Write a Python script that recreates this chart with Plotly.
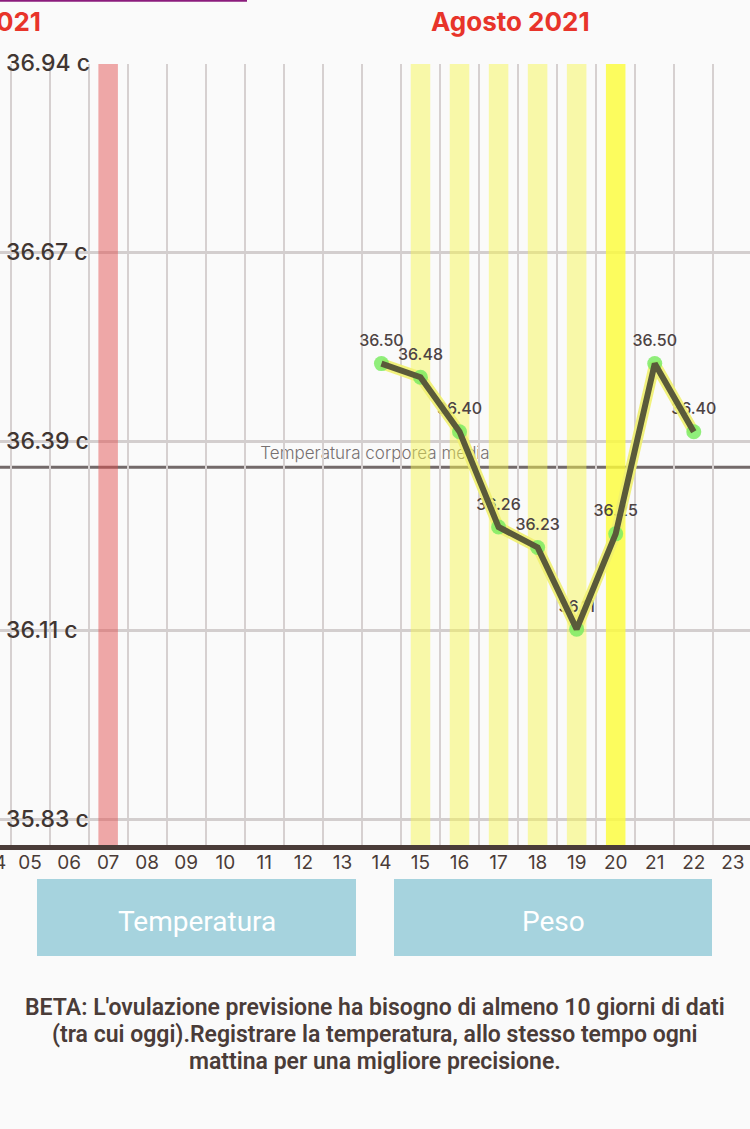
import numpy as np
import plotly.graph_objects as go

# ---------------- data ----------------
DAYS = [14, 15, 16, 17, 18, 19, 20, 21, 22]
TEMPS = [36.50, 36.48, 36.40, 36.26, 36.23, 36.11, 36.25, 36.50, 36.40]
TEMP_LABELS = ["36.50", "36.48", "36.40", "36.26", "36.23", "36.11", "36.25", "36.50", "36.40"]

PERIOD_DAYS = [7]
FERTILE_DAYS = [15, 16, 17, 18, 19]
OVULATION_DAYS = [20]

X_TICK_DAYS = list(range(4, 24))
X_TICK_LABELS = [f"{d:02d}" for d in X_TICK_DAYS]

Y_TICK_VALUES = [35.83, 36.1075, 36.385, 36.6625, 36.94]
Y_TICK_LABELS = ["35.83 c", "36.11 c", "36.39 c", "36.67 c", "36.94 c"]

MONTH_TITLE = "Agosto 2021"
PREV_MONTH_TITLE = "Luglio 2021"
MEAN_LABEL = "Temperatura corporea media"
BUTTONS = ["Temperatura", "Peso"]
NOTE_LINES = [
    "BETA: L'ovulazione previsione ha bisogno di almeno 10 giorni di dati",
    "(tra cui oggi).Registrare la temperatura, allo stesso tempo ogni",
    "mattina per una migliore precisione.",
]

X_RANGE = [4.23, 23.44]
Y_RANGE = [35.793, 36.94]

# ---------------- layout constants ----------------
W, H = 750, 1129
TOP, BOTTOM = 64, 845
PLOT_H = BOTTOM - TOP
BG = "#fafafa"
DARK = "#4a3c38"
FONT = "Inter"


def py(px):
    """figure pixel y -> paper y"""
    return (BOTTOM - px) / PLOT_H


def pxx(px):
    return px / W


fig = go.Figure()

# background day bars (full height)
bar_days = PERIOD_DAYS + FERTILE_DAYS + OVULATION_DAYS
bar_colors = (["rgba(226,78,78,0.48)"] * len(PERIOD_DAYS)
              + ["rgba(246,246,80,0.48)"] * len(FERTILE_DAYS)
              + ["rgba(252,252,60,0.82)"] * len(OVULATION_DAYS))
fig.add_trace(go.Bar(
    x=bar_days,
    y=[Y_RANGE[1] - Y_RANGE[0]] * len(bar_days),
    base=[Y_RANGE[0]] * len(bar_days),
    width=0.5,
    marker=dict(color=bar_colors, line=dict(width=0)),
    hoverinfo="skip",
))

# value labels (beneath the line)
fig.add_trace(go.Scatter(
    x=DAYS, y=TEMPS, mode="markers+text",
    text=TEMP_LABELS, textposition="top center",
    textfont=dict(family=FONT, size=16, color="#4d4343", weight=500),
    marker=dict(size=20, opacity=0),
    hoverinfo="skip",
))

# glow under the line
fig.add_trace(go.Scatter(
    x=DAYS, y=TEMPS, mode="lines",
    line=dict(color="rgba(240,240,110,0.9)", width=11),
    hoverinfo="skip",
))
# markers
fig.add_trace(go.Scatter(
    x=DAYS, y=TEMPS, mode="markers",
    marker=dict(size=15, color="rgba(125,235,100,0.85)", line=dict(width=0)),
    hoverinfo="skip",
))
# main line
fig.add_trace(go.Scatter(
    x=DAYS, y=TEMPS, mode="lines",
    line=dict(color="#5a5a3a", width=6),
    hoverinfo="skip",
))

mean_temp = float(np.mean(TEMPS))

shapes = [
    dict(type="line", xref="paper", yref="y", x0=0, x1=1, y0=mean_temp, y1=mean_temp,
         line=dict(color="#736a6a", width=3), layer="below",
         label=dict(text=MEAN_LABEL, textposition="top center",
                    font=dict(family=FONT, size=17, color="#767070", weight=300),
                    padding=5)),
    dict(type="line", xref="paper", yref="paper", x0=0, x1=pxx(247),
         y0=py(0.8), y1=py(0.8), line=dict(color="#8b1c7c", width=2)),
]

annotations = [
    dict(text=f"<b>{MONTH_TITLE}</b>", xref="paper", yref="paper",
         x=pxx(510), y=py(22), xanchor="center", yanchor="middle", showarrow=False,
         font=dict(family=FONT, size=26, color="#e8342a")),
    dict(text=f"<b>{PREV_MONTH_TITLE}</b>", xref="paper", yref="paper",
         x=pxx(43), y=py(22), xanchor="right", yanchor="middle", showarrow=False,
         font=dict(family=FONT, size=26, color="#e8342a")),
    # partially visible first day label
    dict(text=X_TICK_LABELS[0], xref="paper", yref="paper",
         x=(X_TICK_DAYS[0] - X_RANGE[0]) / (X_RANGE[1] - X_RANGE[0]), y=py(862),
         xanchor="center", yanchor="middle", showarrow=False, xshift=3,
         font=dict(family=FONT, size=19, color=DARK)),
]

# y-axis labels drawn inside the plot, on top of each gridline
for val, lab in zip(Y_TICK_VALUES, Y_TICK_LABELS):
    annotations.append(dict(text=lab, xref="paper", yref="y", x=0, y=val,
                            xanchor="left", yanchor="middle", xshift=4, yshift=1,
                            showarrow=False,
                            font=dict(family=FONT, size=23, color="#413632", weight=500)))

# buttons
btn_boxes = [(37, 356), (394, 712)]
for label, (x0, x1) in zip(BUTTONS, btn_boxes):
    shapes.append(dict(type="rect", xref="paper", yref="paper",
                       x0=pxx(x0), x1=pxx(x1), y0=py(956), y1=py(879),
                       fillcolor="#a6d3de", line=dict(width=0)))
    annotations.append(dict(text=label, xref="paper", yref="paper",
                            x=pxx((x0 + x1) / 2), y=py(921), xanchor="center",
                            yanchor="middle", showarrow=False,
                            font=dict(family="Roboto", size=28, color="white")))

for i, line in enumerate(NOTE_LINES):
    annotations.append(dict(text=line, xref="paper", yref="paper", x=0.5,
                            y=py(1007 + 27 * i), xanchor="center", yanchor="middle",
                            showarrow=False,
                            font=dict(family="Roboto", size=23, color=DARK, weight=600)))

fig.update_layout(
    width=W, height=H,
    margin=dict(l=0, r=0, t=TOP, b=H - BOTTOM, pad=0),
    paper_bgcolor=BG, plot_bgcolor=BG,
    showlegend=False,
    barmode="overlay",
    shapes=shapes,
    annotations=annotations,
    hovermode=False,
)

fig.update_xaxes(
    range=X_RANGE,
    tickmode="array", tickvals=X_TICK_DAYS, ticktext=X_TICK_LABELS,
    tickfont=dict(family=FONT, size=19, color=DARK),
    showgrid=False, zeroline=False,
    showline=True, linecolor=DARK, linewidth=5,
    ticks="", ticklabelstandoff=-4,
    minor=dict(tickmode="array", tickvals=[d + 0.5 for d in X_TICK_DAYS],
               showgrid=True, gridcolor="#d6d0d0", gridwidth=2, ticks=""),
    layer="below traces",
    fixedrange=True,
)

fig.update_yaxes(
    range=Y_RANGE,
    tickmode="array", tickvals=Y_TICK_VALUES, ticktext=Y_TICK_LABELS,
    showticklabels=False,
    showgrid=True, gridcolor="#d3cece", gridwidth=3,
    zeroline=False, showline=False, ticks="",
    fixedrange=True,
)

fig.write_html(
    "out.html",
    config={"displayModeBar": False},
    post_script="document.body.style.margin='0';document.body.style.overflow='hidden';",
)
